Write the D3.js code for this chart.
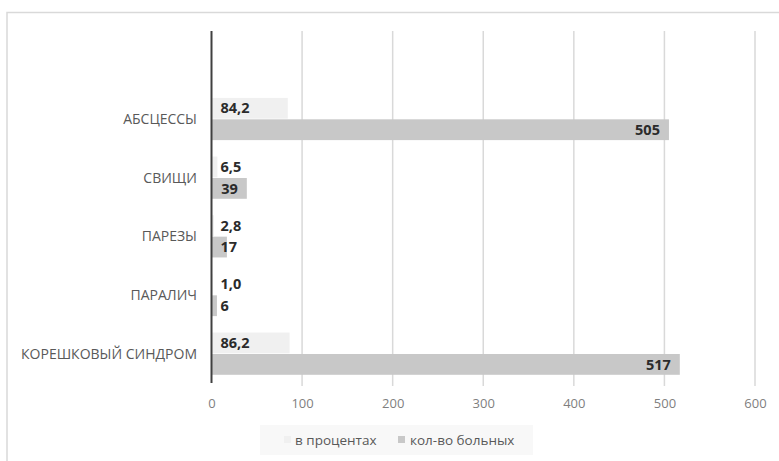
<!DOCTYPE html>
<html>
<head>
<meta charset="utf-8">
<script src="https://cdn.jsdelivr.net/npm/d3@7"></script>
<style>
  html, body { margin: 0; padding: 0; background: #fff; }
  svg { display: block; font-family: "Open Sans", "Noto Sans", sans-serif; }
</style>
</head>
<body>
<svg id="chart" width="779" height="461"></svg>
<script>
// Complications: share of cases (%) and number of patients
const categories = ["АБСЦЕССЫ", "СВИЩИ", "ПАРЕЗЫ", "ПАРАЛИЧ", "КОРЕШКОВЫЙ СИНДРОМ"];
const percentValues = [84.2, 6.5, 2.8, 1.0, 86.2];
const patientValues = [505, 39, 17, 6, 517];
const seriesNames = ["в процентах", "кол-во больных"];
const seriesColors = ["#f0f0f0", "#c8c8c8"];
const xTicks = [0, 100, 200, 300, 400, 500, 600];

const svg = d3.select("#chart");
const W = 779, H = 461;

const plot = { left: 211.5, right: 755, top: 31, bottom: 383 };

const ruLocale = d3.formatLocale({ decimal: ",", thousands: " ", grouping: [3], currency: ["", ""] });
const fmtPct = ruLocale.format(".1f");
const fmtInt = ruLocale.format("d");

// outer frame of the chart area
svg.append("rect").attr("x", 0).attr("y", 0).attr("width", W).attr("height", H).attr("fill", "#fff");
svg.append("path")
  .attr("d", `M7,${H} L7,12.5 L${W},12.5`)
  .attr("fill", "none").attr("stroke", "#d9d9d9").attr("stroke-width", 1.5);

const x = d3.scaleLinear().domain([0, 600]).range([plot.left, plot.right]);

// an empty slot above the first category, as the axis reserves it
const y = d3.scaleBand()
  .domain(["", ...categories])
  .range([plot.top, plot.bottom])
  .paddingInner(0.28)
  .paddingOuter(0.14);

const ySeries = d3.scaleBand().domain([0, 1]).range([0, y.bandwidth()]).paddingInner(0.03);

// vertical gridlines
svg.append("g")
  .selectAll("line")
  .data(xTicks.filter(t => t > 0))
  .join("line")
  .attr("x1", d => x(d)).attr("x2", d => x(d))
  .attr("y1", plot.top).attr("y2", plot.bottom + 3)
  .attr("stroke", "#d9d9d9").attr("stroke-width", 1.5);

// x axis tick labels
const xAxis = d3.axisBottom(x).tickValues(xTicks).tickSize(0).tickPadding(0);
const gx = svg.append("g").attr("transform", `translate(0,${plot.bottom + 15.5})`).call(xAxis);
gx.select(".domain").remove();
gx.selectAll("text")
  .attr("font-size", 13).attr("fill", "#7f7f7f")
  .attr("font-family", "'Open Sans', sans-serif")
  .attr("dy", "0.71em");

// bars
const rows = categories.map((c, i) => ({ cat: c, values: [percentValues[i], patientValues[i]] }));

const groups = svg.append("g").selectAll("g")
  .data(rows)
  .join("g")
  .attr("transform", d => `translate(0,${y(d.cat)})`);

groups.selectAll("rect")
  .data(d => d.values.map((v, s) => ({ v, s })))
  .join("rect")
  .attr("x", x(0))
  .attr("y", d => ySeries(d.s))
  .attr("width", d => x(d.v) - x(0))
  .attr("height", ySeries.bandwidth())
  .attr("fill", d => seriesColors[d.s]);

// value labels: percentages at the base, patient counts at the bar end
const pad = 9;
groups.selectAll("text")
  .data(d => d.values.map((v, s) => ({ v, s })))
  .join("text")
  .attr("y", d => ySeries(d.s) + ySeries.bandwidth() / 2)
  .attr("dy", "0.36em")
  .attr("font-size", 14.5)
  .attr("font-weight", "bold")
  .attr("fill", "#2b2b2b")
  .text(d => d.s === 0 ? fmtPct(d.v) : fmtInt(d.v))
  .each(function (d) {
    const t = d3.select(this);
    const w = this.getComputedTextLength();
    if (d.s === 0) {
      t.attr("x", x(0) + pad).attr("text-anchor", "start");
    } else {
      const endX = x(d.v) - pad;
      if (endX - w < x(0) + pad) {
        t.attr("x", x(0) + pad).attr("text-anchor", "start");
      } else {
        t.attr("x", endX).attr("text-anchor", "end");
      }
    }
  });

// category axis
svg.append("line")
  .attr("x1", x(0)).attr("x2", x(0))
  .attr("y1", plot.top).attr("y2", plot.bottom)
  .attr("stroke", "#404040").attr("stroke-width", 2);

svg.append("g").selectAll("text")
  .data(categories)
  .join("text")
  .attr("x", 197)
  .attr("y", d => y(d) + y.bandwidth() / 2)
  .attr("dy", "0.36em")
  .attr("text-anchor", "end")
  .attr("font-size", 14)
  .attr("fill", "#595959")
  .text(d => d);

// legend
const legend = svg.append("g");
legend.append("rect")
  .attr("x", 260).attr("y", 425).attr("width", 273).attr("height", 30)
  .attr("fill", "#f8f8f8");
const legendItems = [
  { name: seriesNames[0], color: seriesColors[0], sx: 284, tx: 295 },
  { name: seriesNames[1], color: seriesColors[1], sx: 398, tx: 410 }
];
legendItems.forEach(it => {
  legend.append("rect")
    .attr("x", it.sx).attr("y", 436).attr("width", 7).attr("height", 7)
    .attr("fill", it.color);
  legend.append("text")
    .attr("x", it.tx).attr("y", 440).attr("dy", "0.36em")
    .attr("font-size", 13.5).attr("fill", "#595959")
    .text(it.name);
});
</script>
</body>
</html>
